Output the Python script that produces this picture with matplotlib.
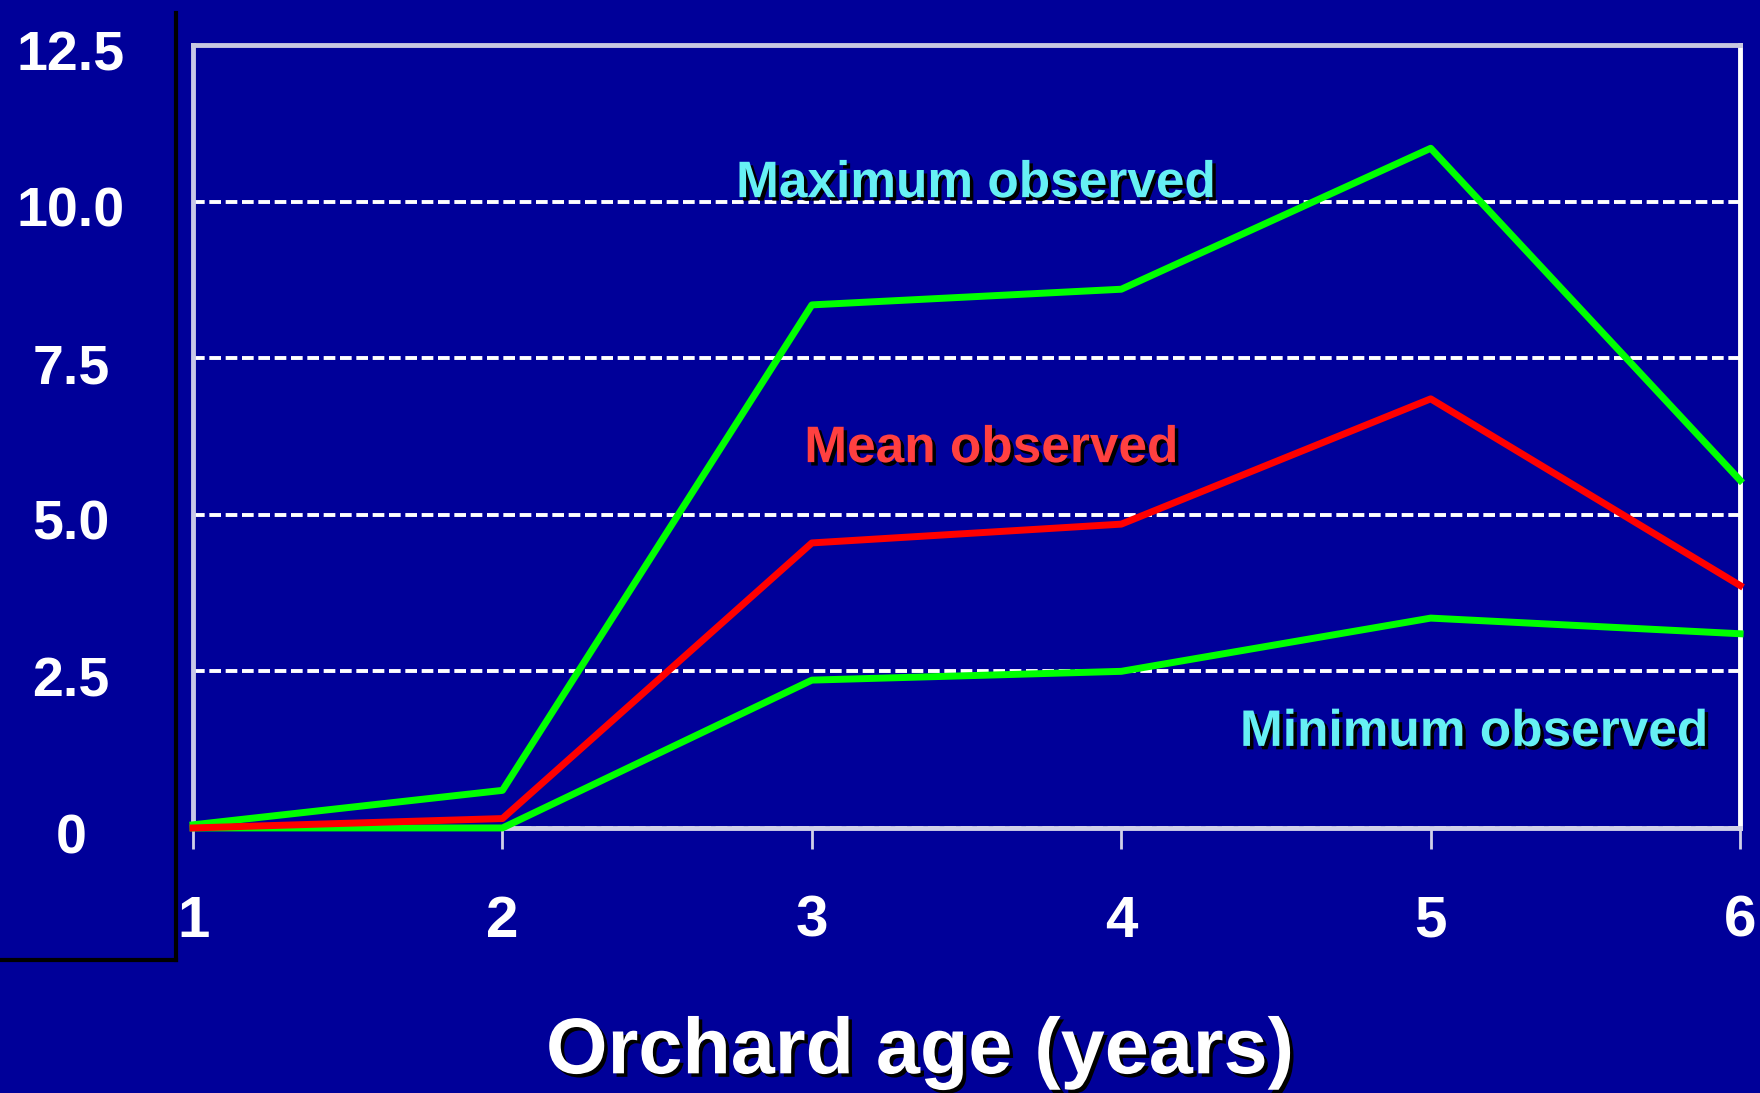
import matplotlib.pyplot as plt
import matplotlib.patheffects as pe
from matplotlib.lines import Line2D

years = [1, 2, 3, 4, 5, 6]
max_obs = [0.05, 0.6, 8.35, 8.6, 10.85, 5.55]
mean_obs = [0.0, 0.15, 4.55, 4.85, 6.85, 3.87]
min_obs = [0.0, 0.0, 2.36, 2.5, 3.35, 3.1]
yticks = [0, 2.5, 5.0, 7.5, 10.0, 12.5]
ytick_labels = ['0', '2.5', '5.0', '7.5', '10.0', '12.5']

navy = '#000099'
plt.rcParams['font.family'] = ['Liberation Sans', 'DejaVu Sans']

fig = plt.figure(figsize=(17.6, 10.93), dpi=100, facecolor=navy)
ax = fig.add_axes([0.1097, 0.2425, 0.879, 0.7164])
ax.set_facecolor(navy)

ax.plot(years, max_obs, color='#00ff00', lw=5, clip_on=False, zorder=4)
ax.plot(years, min_obs, color='#00ff00', lw=5, clip_on=False, zorder=4)
ax.plot(years, mean_obs, color='#ff0000', lw=5, clip_on=False, zorder=5)

ax.set_xlim(1, 6)
ax.set_ylim(0, 12.5)

# grid
ax.set_yticks(yticks)
ax.set_yticklabels([])
ax.tick_params(axis='y', length=0)
ax.yaxis.grid(True, color='white', lw=2.8, linestyle=(0, (3, 1.2)))
ax.set_axisbelow(True)

# x ticks
ax.set_xticks(years)
ax.tick_params(axis='x', color='#d0d0e8', width=2, length=15, pad=33,
               labelsize=42, labelcolor='white')
for lbl in ax.get_xticklabels():
    lbl.set_fontweight('bold')

# spines
ax.spines['top'].set_color('#c8c8e0')
ax.spines['left'].set_color('#c8c8e8')
ax.spines['bottom'].set_color('#d0d0e8')
ax.spines['right'].set_color('white')
for s in ax.spines.values():
    s.set_linewidth(3.5)

# y labels, centred in the left margin, a little below their lines
for v, t in zip(yticks, ytick_labels):
    ax.annotate(t, xy=(71 / 1760, v), xycoords=('figure fraction', 'data'),
                xytext=(0, -8), textcoords='offset points',
                ha='center', va='center', fontsize=40, fontweight='bold',
                color='white')

shadow = [pe.withSimplePatchShadow(offset=(2.5, -2.5), shadow_rgbFace='black', alpha=1)]
ax.text(3.53, 10.07, 'Maximum observed', color='#66f0f4', fontsize=37,
        fontweight='bold', ha='center', va='baseline', path_effects=shadow, zorder=6)
ax.text(3.58, 5.84, 'Mean observed', color='#ff4040', fontsize=37,
        fontweight='bold', ha='center', va='baseline', path_effects=shadow, zorder=6)
ax.text(5.14, 1.31, 'Minimum observed', color='#66f0f4', fontsize=37,
        fontweight='bold', ha='center', va='baseline', path_effects=shadow, zorder=6)

fig.text(0.523, 0.018, 'Orchard age (years)', color='white', fontsize=57,
         fontweight='bold', ha='center', va='baseline', path_effects=shadow)

# black frame at the left
fig.add_artist(Line2D([176 / 1760] * 2, [1 - 13 / 1093, 1 - 960 / 1093],
                      transform=fig.transFigure, color='black', lw=3))
fig.add_artist(Line2D([0, 176 / 1760], [1 - 960 / 1093] * 2,
                      transform=fig.transFigure, color='black', lw=3))

fig.savefig('out.png', dpi=100, facecolor=navy)
